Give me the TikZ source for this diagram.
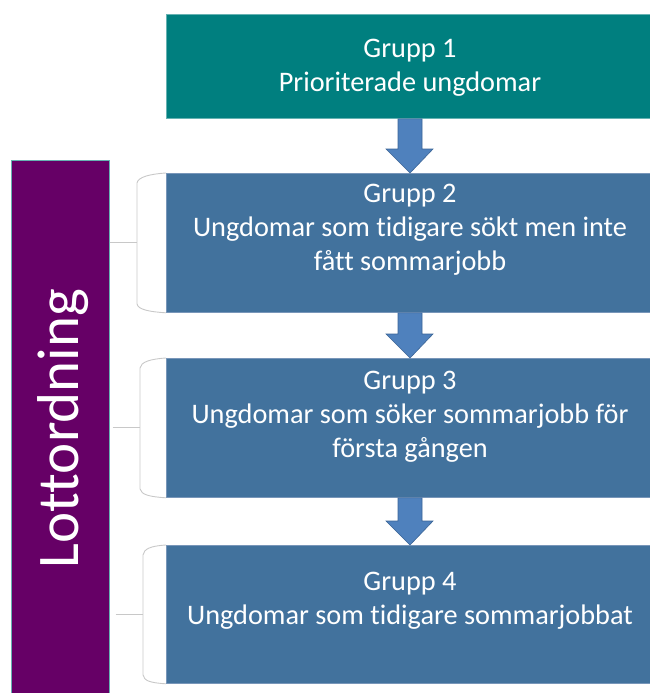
\documentclass[tikz,border=0pt]{standalone}
\usepackage{fontspec}
\setmainfont{Carlito}[Ligatures={NoCommon}]
\usetikzlibrary{calc}
\definecolor{tealbox}{RGB}{0,127,127}
\definecolor{bluebox}{RGB}{66,114,157}
\definecolor{bluebord}{RGB}{120,150,185}
\definecolor{arrfill}{RGB}{79,129,189}
\definecolor{arrbord}{RGB}{58,100,150}
\definecolor{purplebar}{RGB}{102,0,102}
\definecolor{brkgray}{RGB}{200,200,200}
\tikzset{
  box/.style={rectangle, anchor=north west, minimum width=490pt, inner sep=0pt, line width=0.8pt},
  gbox/.style={box, fill=tealbox, draw=tealbox!60!white},
  bbox/.style={box, fill=bluebox, draw=bluebord},
  txt/.style={text=white, align=center, inner sep=0pt, font=\fontsize{28.3}{34}\selectfont},
  arr/.style={fill=arrfill, draw=arrbord, line width=0.6pt, line join=miter},
  brk/.style={draw=brkgray, line width=0.9pt},
}
\newcommand\blkarrow[2]{%
  \draw[arr] ($(#1.south -| ax)+(-12,0)$) -- ($(#2.north -| ax)+(-12,-24)$) -- ($(#2.north -| ax)+(-24,-24)$) -- (#2.north -| ax) -- ($(#2.north -| ax)+(23,-24)$) -- ($(#2.north -| ax)+(12,-24)$) -- ($(#1.south -| ax)+(12,0)$) -- cycle;}
\newcommand\grpbracket[2]{%
  \draw[brk] (#1.north west) .. controls +(-16,1) and +(1,-6) .. ($(#1.north west)+(-#2,10)$) -- ($(#1.south west)+(-#2,-9)$) .. controls +(1,6) and +(-16,-1) .. (#1.south west);}
\begin{document}
\begin{tikzpicture}[x=1pt,y=-1pt]
\useasboundingbox (0,0) rectangle (649,693);
\coordinate (ax) at (410,0);
% purple bar
\node[rectangle, anchor=north west, minimum width=98pt, minimum height=545pt, inner sep=0pt, fill=purplebar, draw=teal!60!white, line width=0.5pt] (lot) at (11,160) {};
\node[rotate=90, anchor=base, text=white, inner sep=0pt, font=\fontsize{59}{60}\selectfont] (lottxt) at (78,428.5) {Lottordning};
% boxes
\node[gbox, minimum height=104pt] (b1) at (166,14) {};
\node[bbox, minimum height=139pt] (b2) at (166,173) {};
\node[bbox, minimum height=139pt] (b3) at (166,358) {};
\node[bbox, minimum height=138pt] (b4) at (166,545) {};
% texts
\node[txt] (t1) at (410,68) {Grupp 1\\Prioriterade ungdomar};
\node[txt] (t2) at (410,229.5) {Grupp 2\\Ungdomar som tidigare sökt men inte\\fått sommarjobb};
\node[txt] (t3) at (410,416.5) {Grupp 3\\Ungdomar som söker sommarjobb för\\första gången};
\node[txt] (t4) at (410,600.5) {Grupp 4\\Ungdomar som tidigare sommarjobbat};
% arrows
\blkarrow{b1}{b2}
\blkarrow{b2}{b3}
\blkarrow{b3}{b4}
% brackets
\grpbracket{b2}{29}
\grpbracket{b3}{26}
\grpbracket{b4}{23}
\draw[brk] (lot.east |- b2.west) -- ($(b2.west)+(-29,0)$);
\draw[brk] ($(lot.east |- b3.west)+(3,0)$) -- ($(b3.west)+(-26,0)$);
\draw[brk] ($(lot.east |- b4.west)+(6,0)$) -- ($(b4.west)+(-23,0)$);
\end{tikzpicture}
\end{document}
